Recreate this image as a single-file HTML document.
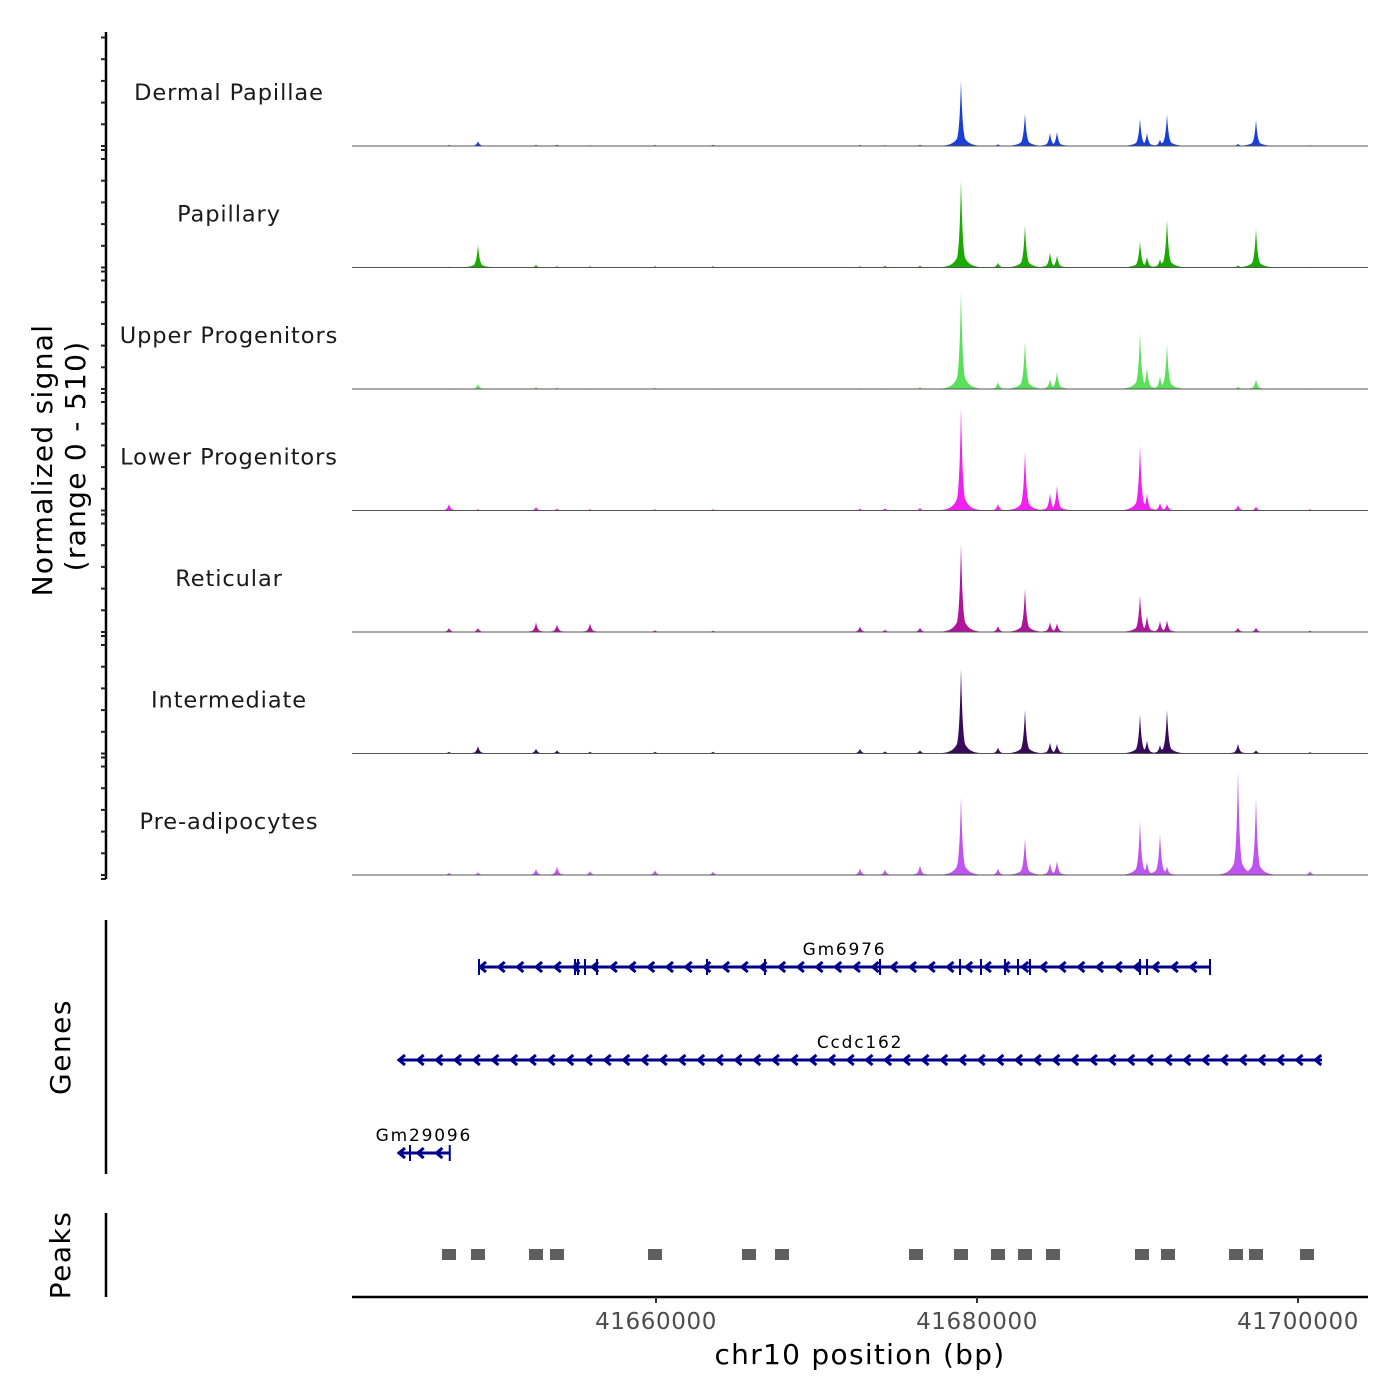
<!DOCTYPE html>
<html><head><meta charset="utf-8"><style>
html,body{margin:0;padding:0;background:#fff;}
svg{display:block;font-family:"DejaVu Sans","Liberation Sans",sans-serif;}
</style></head><body>
<svg id="chart" width="1400" height="1400" viewBox="0 0 1400 1400" xmlns="http://www.w3.org/2000/svg"></svg>
<script>
// ---- data ----
const trackNames = ["Dermal Papillae","Papillary","Upper Progenitors","Lower Progenitors","Reticular","Intermediate","Pre-adipocytes"];
const trackColors = ["#1a3fd6","#1aaa00","#5ae05a","#f020f0","#b0139c","#3a0a5a","#bf55f0"];
// peak positions in bp
const peakPos = [41647103,41648909,41652523,41653832,41655888,41659937,41663551,41672710,41674268,41676448,41679003,41681308,41682990,41684548,41684984,41690155,41690591,41691401,41691838,41696261,41697383,41700747];
// heights per track (signal 0-510) aligned with peakPos
const heightsDP  = [ 5,22, 5, 6, 4, 5, 6, 5, 4, 6,300, 8,150,60,65,125,60,30,145, 10,120, 4];
const heightsPap = [ 4,105,12, 6, 6, 6, 6, 6, 8, 8,400,22,195,70,55,120,50,40,220, 10,180, 4];
const heightsUP  = [ 4,22, 8, 6, 4, 6, 4, 4, 4, 8,450,32,220,45,80,260,100,60,205, 10,45, 4];
const heightsLP  = [30, 6,15, 8, 6, 6, 6, 8,10,12,475,30,270,80,115,300,80,35, 30, 25,18, 6];
const heightsRet = [18,18,45,35,40, 8, 6,25,10,20,405,28,200,45,40,170,75,50, 55, 20,20, 6];
const heightsInt = [ 8,35,22,15, 8, 8, 8,22,10,15,390,28,200,50,45,180,60,40,200, 45,15, 6];
const heightsPre = [10,12,28,40,18,22,15,30,25,45,360,30,170,55,65,250,60,190, 40,480,355,18];
const trackHeights = [heightsDP,heightsPap,heightsUP,heightsLP,heightsRet,heightsInt,heightsPre];
// genes
const geneNames = ["Gm6976","Ccdc162","Gm29096"];
const geneStarts = [41648972,41643925,41643925];
const geneEnds   = [41694517,41701500,41647150];
const geneExons = [
  [41648972,41654953,41655140,41655576,41656324,41663177,41666791,41673956,41678940,41680249,41681744,41682554,41683302,41690155,41690591,41694517],
  [],
  [41644673,41647150]
];
const narrowPeakStarts = [41646666,41648473,41652087,41653395,41659501,41665358,41667414,41675763,41678567,41680872,41682554,41684299,41689844,41691464,41695700,41696947,41700124];
const xTickVals = [41660000,41680000,41700000];
const xTickLabels = ["41660000","41680000","41700000"];

// ---- scales ----
const X0=41641059, BPPX=20000/321, PL=352, PR=1368;
const xs = bp => PL + (bp - X0)/BPPX;
const trackStep=121.5, trackH=111, MAXV=510;
const base = i => 146 + i*trackStep;
const ys = (i,v) => base(i) - v/MAXV*trackH;

const svg=document.getElementById('chart');
const NS="http://www.w3.org/2000/svg";
function mk(tag,attrs,parent){const e=document.createElementNS(NS,tag);for(const k in attrs)e.setAttribute(k,attrs[k]);(parent||svg).appendChild(e);return e;}

// left axis for tracks
const ax=mk('g',{});


mk('line',{x1:106,y1:32,x2:106,y2:879,stroke:'#000','stroke-width':2.5},ax);
for(let i=0;i<7;i++){
  for(let k=0;k<=5;k++){
    const y=base(i)-k*21.7;
    const t=mk('line',{x1:101,y1:y,x2:106,y2:y,stroke:'#222','stroke-width':2},ax);
    
    
  }
  const y=base(i)+4;
  mk('line',{x1:101,y1:y,x2:106,y2:y,stroke:'#222','stroke-width':2},ax);
}
const yt=mk('text',{x:0,y:0,transform:'translate(52,460) rotate(-90)','text-anchor':'middle','font-size':28,'letter-spacing':1.3,fill:'#000'});
yt.textContent='Normalized signal';


const yt2=mk('text',{x:0,y:0,transform:'translate(85,456) rotate(-90)','text-anchor':'middle','font-size':28,'letter-spacing':1.3,fill:'#000'});
yt2.textContent='(range 0 - 510)';



// tracks
for(let i=0;i<7;i++){
  const g=mk('g',{});
  
  
  const lbl=mk('text',{x:229,y:base(i)-46,'text-anchor':'middle','font-size':22.5,'letter-spacing':0.9,fill:'#1a1a1a'},g);
  lbl.textContent=trackNames[i];
  
  
  const hs=trackHeights[i];
  let d='M'+PL+','+base(i);
  for(let px=PL;px<=PR;px+=0.5){
    let v=0;
    for(let p=0;p<peakPos.length;p++){
      const dx=Math.abs(px-xs(peakPos[p]));
      v=Math.max(v, hs[p]*Math.exp(-dx/1.8), hs[p]*0.25*Math.exp(-dx/5));
    }
    d+=' L'+px.toFixed(1)+','+ys(i,v).toFixed(2);
  }
  d+=' L'+PR+','+base(i)+' Z';
  const a=mk('path',{d:d,fill:trackColors[i],stroke:'none'},g);
  
  
  mk('line',{x1:PL,y1:base(i),x2:PR,y2:base(i),stroke:'#555','stroke-width':1},g);
}

// genes
const gAx=mk('line',{x1:106,y1:920,x2:106,y2:1174,stroke:'#000','stroke-width':2.5});


const gl=mk('text',{x:0,y:0,transform:'translate(70,1047) rotate(-90)','text-anchor':'middle','font-size':28,'letter-spacing':1.5,fill:'#000'});
gl.textContent='Genes';


const geneY=[967,1060,1153];
for(let j=0;j<3;j++){
  const g=mk('g',{});
  
  
  const x1=xs(geneStarts[j]),x2=xs(geneEnds[j]),y=geneY[j];
  mk('line',{x1:x1,y1:y,x2:x2,y2:y,stroke:'#00008b','stroke-width':3},g);
  for(let ax2=x1+1;ax2<x2-4;ax2+=18.7){
    mk('polyline',{points:(ax2+6)+','+(y-5)+' '+ax2+','+y+' '+(ax2+6)+','+(y+5),fill:'none',stroke:'#00008b','stroke-width':3},g);
  }
  for(const e of geneExons[j]){
    const ex=xs(e);
    mk('line',{x1:ex,y1:y-8,x2:ex,y2:y+8,stroke:'#00008b','stroke-width':2},g);
  }
  const t=mk('text',{x:(x1+x2)/2,y:y-12,'text-anchor':'middle','font-size':17,'letter-spacing':1.8,fill:'#000'},g);
  t.textContent=geneNames[j];
}

// peaks
const pAx=mk('line',{x1:106,y1:1213,x2:106,y2:1297,stroke:'#000','stroke-width':2.5});


const pl=mk('text',{x:0,y:0,transform:'translate(70,1255) rotate(-90)','text-anchor':'middle','font-size':28,'letter-spacing':1.5,fill:'#000'});
pl.textContent='Peaks';


for(const s of narrowPeakStarts){
  const r=mk('rect',{x:xs(s),y:1249,width:14,height:11,fill:'#5f5f5f'});
  
  
}

// x axis
const xa=mk('g',{});


mk('line',{x1:PL,y1:1297,x2:PR,y2:1297,stroke:'#000','stroke-width':2.5},xa);
for(let k=0;k<xTickVals.length;k++){
  const x=xs(xTickVals[k]);
  mk('line',{x1:x,y1:1297,x2:x,y2:1303,stroke:'#333','stroke-width':2},xa);
  const t=mk('text',{x:x,y:1329,'text-anchor':'middle','font-size':23,'letter-spacing':0.6,fill:'#4d4d4d'},xa);
  t.textContent=xTickLabels[k];
  
  
}
const xt=mk('text',{x:860,y:1364,'text-anchor':'middle','font-size':28,'letter-spacing':1.3,fill:'#000'});
xt.textContent='chr10 position (bp)';


</script>
</body></html>
